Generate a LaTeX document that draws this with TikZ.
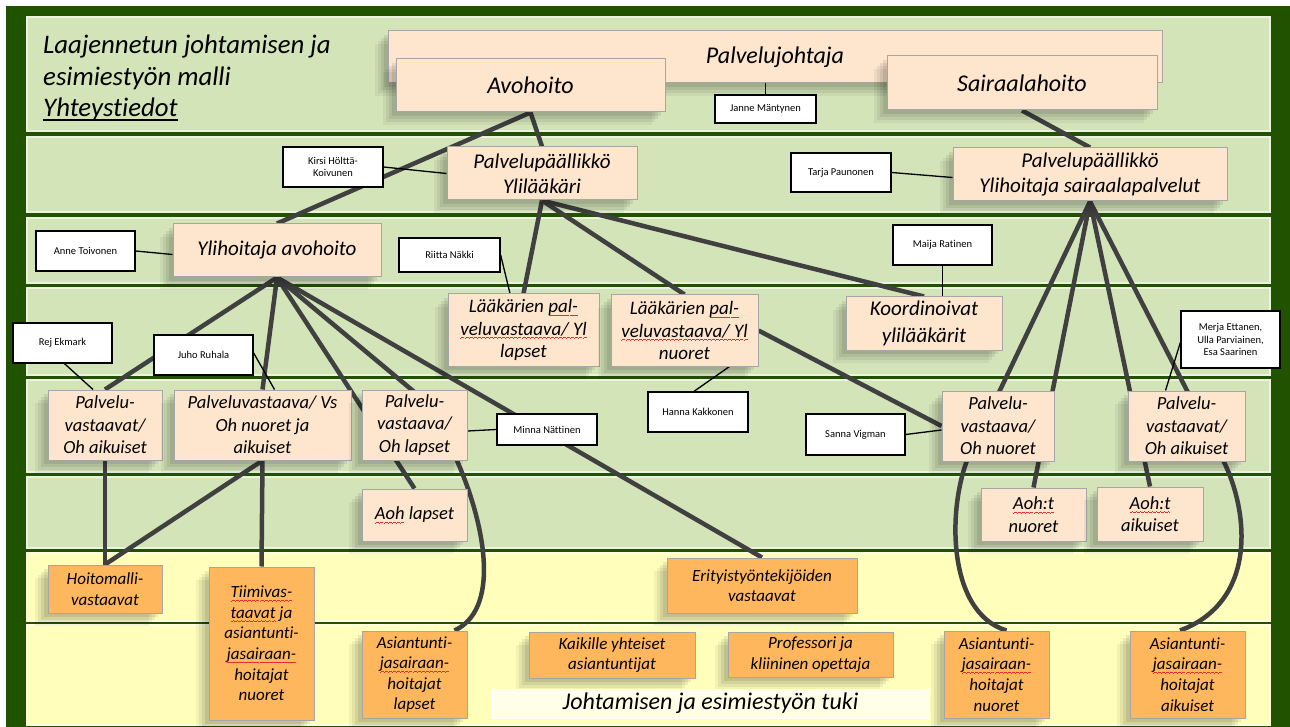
\documentclass[tikz,border=0pt]{standalone}
\usepackage{fontspec}
\setmainfont{Carlito}[Ligatures={TeX,NoCommon}]
\usetikzlibrary{shadows,calc}
\definecolor{dkgreen}{HTML}{215200}
\definecolor{bandg}{HTML}{D3E4B9}
\definecolor{bandy}{HTML}{FFFFBB}
\definecolor{peach}{HTML}{FDE5CE}
\definecolor{orng}{HTML}{FFB75E}
\definecolor{tukifill}{HTML}{FFFFE8}
\definecolor{linegray}{HTML}{404040}
\definecolor{boxgray}{HTML}{A6A6A6}
\definecolor{spellred}{HTML}{E03030}
\newcommand\myfs[2]{\fontsize{#1}{#2}\selectfont}
\newsavebox\splbox
\newcommand\wavepiece{\rule[0pt]{1pt}{.6pt}\rule[.5pt]{1pt}{.6pt}\rule[.9pt]{1pt}{.6pt}\rule[.5pt]{1pt}{.6pt}}
\newcommand\spl[1]{\sbox\splbox{#1}\rlap{\raisebox{-3.5pt}{\color{spellred}\hbox to\wd\splbox{\xleaders\hbox{\wavepiece}\hfill}}}\usebox\splbox}
\newcommand\myul[1]{\sbox\splbox{#1}\rlap{\raisebox{-4.5pt}{\rule{\wd\splbox}{1.8pt}}}\usebox\splbox}
\pgfdeclarelayer{bands}
\pgfdeclarelayer{lines}
\pgfsetlayers{bands,lines,main}
\tikzset{
  shad/.style={drop shadow={shadow xshift=-13pt,shadow yshift=-13pt,opacity=.05,fill=black},
               drop shadow={shadow xshift=-10pt,shadow yshift=-10pt,opacity=.06,fill=black},
               drop shadow={shadow xshift=-7pt,shadow yshift=-7pt,opacity=.07,fill=black},
               drop shadow={shadow xshift=-4pt,shadow yshift=-4pt,opacity=.08,fill=black}},
  pbox/.style={draw=boxgray,line width=1pt,fill=peach,align=center,inner sep=1pt,shad},
  obox/.style={draw=boxgray,line width=1pt,fill=orng,align=center,inner sep=1pt,shad},
  lbl/.style={draw=black,line width=1.3pt,fill=white,align=center,inner sep=1pt,font=\myfs{10.5}{12.5}},
  fA/.style={font=\itshape\myfs{24}{28}},
  fB/.style={font=\itshape\myfs{21}{25}},
  fC/.style={font=\itshape\myfs{19}{22.5}},
  fD/.style={font=\itshape\myfs{18.5}{22.5}},
  fE/.style={font=\itshape\myfs{17}{20.6}},
  conn/.style={draw=linegray,line width=4.5pt},
  tl/.style={draw=black,line width=1.3pt},
  bandbox/.style={fill=bandg,draw=white!55!bandg,line width=1.5pt},
  ybandbox/.style={fill=bandy,draw=white!55!bandy,line width=1.5pt},
}
\begin{document}
\begin{tikzpicture}[x=1pt,y=-1pt]
\useasboundingbox (0,0) rectangle (1290,727);
\begin{pgfonlayer}{bands}
\fill[white] (0,0) rectangle (1290,727);
\fill[dkgreen] (6,6) rectangle (1290,727);
\draw[bandbox] (27,17) rectangle (1270,131);
\draw[bandbox] (27,137) rectangle (1270,212);
\draw[bandbox] (27,218) rectangle (1270,283);
\draw[bandbox] (27,288) rectangle (1270,375);
\draw[bandbox] (27,380) rectangle (1270,472);
\draw[bandbox] (27,477) rectangle (1270,548);
\draw[ybandbox] (27,553) rectangle (1270,621);
\draw[ybandbox] (27,625) rectangle (1270,725);
\end{pgfonlayer}

% title
\node[anchor=west,align=left,inner sep=0pt,font=\itshape\myfs{26.8}{31.5}] (title) at (43,78)
  {Laajennetun johtamisen ja\\esimiestyön malli\\\myul{Yhteystiedot}};

% level 1
\node[pbox,fA,minimum width=774pt,minimum height=52pt] (pj) at (775,57) {Palvelujohtaja};
\node[pbox,fA,minimum width=269pt,minimum height=53pt] (avo) at (530.5,85.5) {Avohoito};
\node[pbox,fA,minimum width=270pt,minimum height=54pt] (sai) at (1022,83) {Sairaalahoito};
\node[lbl,minimum width=101pt,minimum height=28pt] (jan) at (765.5,109) {Janne Mäntynen};

% level 2
\node[pbox,fB,minimum width=190pt,minimum height=53pt] (ppy) at (542,173.5) {Palvelupäällikkö\\Ylilääkäri};
\node[pbox,fB,minimum width=274pt,minimum height=53pt] (pph) at (1090,174.5) {Palvelupäällikkö\\Ylihoitaja sairaalapalvelut};
\node[lbl,minimum width=100pt,minimum height=40pt] (kir) at (333,167) {Kirsi Hölttä-\\Koivunen};
\node[lbl,minimum width=100pt,minimum height=39pt] (tar) at (841,172.5) {Tarja Paunonen};

% level 3
\node[pbox,fB,minimum width=208pt,minimum height=53pt] (yha) at (277,250.5) {Ylihoitaja avohoito};
\node[lbl,minimum width=99pt,minimum height=40pt] (ann) at (85.5,251) {Anne Toivonen};
\node[lbl,minimum width=101pt,minimum height=34pt] (rii) at (449.5,255) {Riitta Näkki};
\node[lbl,minimum width=99pt,minimum height=40pt] (mai) at (942.5,245) {Maija Ratinen};

% level 4
\node[pbox,fC,minimum width=151pt,minimum height=72pt] (lla) at (523.5,330) {Lääkärien \spl{pal-}\\\spl{veluvastaava/ Yl}\\lapset};
\node[pbox,fC,minimum width=147pt,minimum height=71pt] (lln) at (684.5,330.5) {Lääkärien \spl{pal-}\\\spl{veluvastaava/ Yl}\\nuoret};
\node[pbox,font=\itshape\myfs{21}{27},minimum width=156pt,minimum height=53pt] (koo) at (924,323.5) {Koordinoivat\\ylilääkärit};
\node[lbl,minimum width=99pt,minimum height=40pt] (rej) at (62.5,343) {Rej Ekmark};
\node[lbl,minimum width=99pt,minimum height=40pt] (juh) at (203.5,355) {Juho Ruhala};
\node[lbl,minimum width=99pt,minimum height=57pt] (mer) at (1230.5,339.5) {Merja Ettanen,\\Ulla Parviainen,\\Esa Saarinen};

% level 5
\node[pbox,fD,minimum width=114pt,minimum height=70pt] (pva) at (105,425) {Palvelu-\\vastaavat/\\Oh aikuiset};
\node[pbox,fD,minimum width=177pt,minimum height=70pt] (pvs) at (262.5,425) {Palveluvastaava/ Vs\\Oh nuoret ja\\aikuiset};
\node[pbox,fD,minimum width=105pt,minimum height=70pt] (pvl) at (414.5,425) {Palvelu-\\vastaava/\\Oh lapset};
\node[pbox,fD,minimum width=112pt,minimum height=70pt] (pvn) at (998,426) {Palvelu-\\vastaava/\\Oh nuoret};
\node[pbox,fD,minimum width=117pt,minimum height=70pt] (pvr) at (1186.5,426) {Palvelu-\\vastaavat/\\Oh aikuiset};
\node[lbl,minimum width=100pt,minimum height=31pt] (min) at (547,429.5) {Minna Nättinen};
\node[lbl,minimum width=100pt,minimum height=40pt] (han) at (698,412) {Hanna Kakkonen};
\node[lbl,minimum width=99pt,minimum height=41pt] (san) at (855.5,434.5) {Sanna Vigman};

% level 6
\node[pbox,fD,minimum width=105pt,minimum height=52pt] (aohl) at (414.5,515) {\spl{Aoh} lapset};
\node[pbox,fD,minimum width=105pt,minimum height=53pt] (aohn) at (1033.5,514.5) {\spl{Aoh:t}\\nuoret};
\node[pbox,fD,minimum width=106pt,minimum height=54pt] (aoha) at (1150,514) {\spl{Aoh:t}\\aikuiset};

% level 7
\node[obox,font=\itshape\myfs{17}{21.5},minimum width=114pt,minimum height=48pt] (hoi) at (105,589) {Hoitomalli-\\vastaavat};
\node[obox,fE,minimum width=105pt,minimum height=153pt] (tii) at (261.5,643.5) {\spl{Tiimivas-}\\\spl{taavat} ja\\asiantunti-\\\spl{jasairaan-}\\hoitajat\\nuoret};
\node[obox,fE,minimum width=190pt,minimum height=55pt] (eri) at (762,585.5) {Erityistyöntekijöiden\\vastaavat};

% level 8
\node[obox,fE,minimum width=105pt,minimum height=87pt] (asl) at (414.5,674.5) {Asiantunti-\\\spl{jasairaan-}\\hoitajat\\lapset};
\node[obox,fE,minimum width=166pt,minimum height=46pt] (kai) at (612,655) {Kaikille yhteiset\\asiantuntijat};
\node[obox,fE,minimum width=165pt,minimum height=45pt] (pro) at (810.5,654.5) {Professori ja\\kliininen opettaja};
\node[obox,fE,minimum width=105pt,minimum height=87pt] (asn) at (996.5,674.5) {Asiantunti-\\\spl{jasairaan-}\\hoitajat\\nuoret};
\node[obox,fE,minimum width=115pt,minimum height=87pt] (asa) at (1187.5,674.5) {Asiantunti-\\\spl{jasairaan-}\\hoitajat\\aikuiset};
\node[fill=tukifill,draw=white,line width=1pt,fA,minimum width=437pt,minimum height=29pt,inner sep=0pt] (tuki) at (710.5,703.5) {Johtamisen ja esimiestyön tuki};

\begin{pgfonlayer}{lines}
% thick connectors
\draw[conn] (avo.south) -- (yha.north);
\draw[conn] (avo.south) -- (ppy.north);
\draw[conn] (sai.south) -- (pph.north);
\draw[conn] (ppy.south) -- (lla.north);
\draw[conn] (ppy.south) -- (lln.north);
\draw[conn] (ppy.south) -- (koo.north);
\draw[conn] (lln.east) -- (pvn.west);
\coordinate (k1) at (971,451);
\coordinate (k2) at (1218,451);
\draw[conn] (pph.south) -- (k1) .. controls (947,501) and (945,612) .. ([xshift=10pt]asn.north);
\draw[conn] (pph.south) -- (aohn.north);
\draw[conn] (pph.south) -- (aoha.north);
\draw[conn] (pph.south) -- (k2) .. controls (1248,501) and (1262,600) .. ([xshift=-7.5pt]asa.north);
\draw[conn] (yha.south) -- (pva.north);
\draw[conn] (yha.south) -- (pvs.north);
\draw[conn] (yha.south) -- (aohl.north);
\coordinate (k3) at (418,395);
\draw[conn] (yha.south) -- (k3) .. controls (462,445) and (520,600) .. ([xshift=40pt]asl.north);
\draw[conn] (yha.south) -- (eri.north);
\draw[conn] (pva.south) -- (hoi.north);
\draw[conn] (pvs.south) -- (hoi.north);
\draw[conn] (pvs.south) -- (tii.north);
% thin label connectors
\draw[tl] (jan.north) -- (jan.north |- pj.south);
\draw[tl] (kir.east) -- (ppy.west);
\draw[tl] (tar.east) -- ([yshift=-3pt]pph.west);
\draw[tl] (ann.east) -- ([yshift=-4pt]yha.west);
\draw[tl] (rii.east) -- ([xshift=-13.5pt]lla.north);
\draw[tl] (mai.south) -- (mai.south |- koo.north);
\draw[tl] ([xshift=2pt]rej.south) -- ([xshift=-12pt]pva.north);
\draw[tl] ([yshift=2pt]juh.east) -- ([xshift=12pt]pvs.north);
\draw[tl] ([yshift=-3pt]mer.west) -- ([xshift=-21pt]pvr.north);
\draw[tl] (min.west) -- ([yshift=-6pt]pvl.east);
\draw[tl] ([xshift=-4pt]han.north) -- ([xshift=45pt]lln.south);
\draw[tl] (san.east) -- ([yshift=-4pt]pvn.west);
\end{pgfonlayer}
\end{tikzpicture}
\end{document}
